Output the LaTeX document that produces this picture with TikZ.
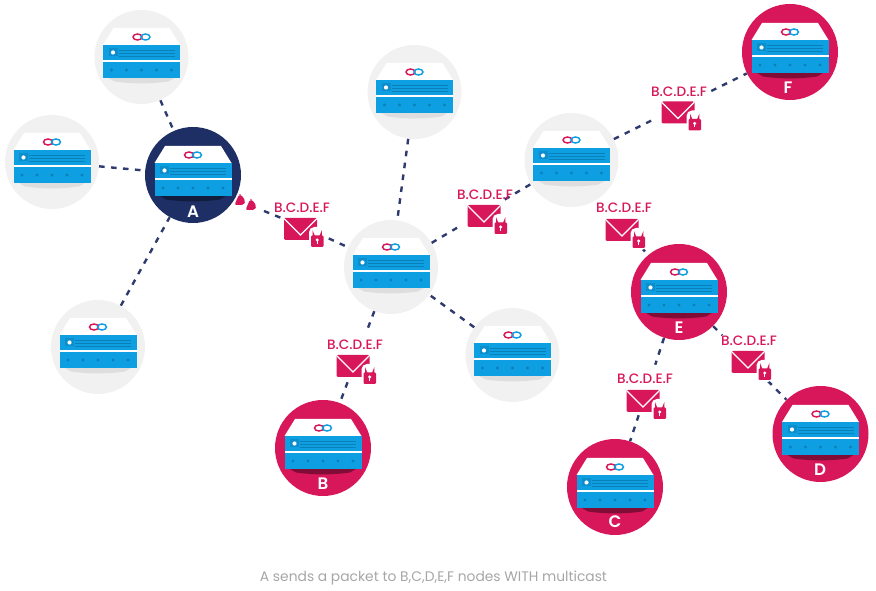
\documentclass[tikz,border=0pt]{standalone}
\usepackage{fontspec}
\setmainfont{Poppins}
\newfontfamily\tagfont{Poppins Medium}
\newfontfamily\letterfont{Poppins SemiBold}
\usetikzlibrary{positioning}

\definecolor{crimson}{HTML}{D8175A}
\definecolor{navy}{HTML}{1E2F66}
\definecolor{linknavy}{HTML}{2F3B6E}
\definecolor{softgray}{HTML}{F1F1F1}
\definecolor{bandblue}{HTML}{0E9FE2}
\definecolor{darkblue}{HTML}{0B7FB8}

\tikzset{
  plainnode/.style={circle, fill=softgray, minimum size=70.5pt, inner sep=0pt},
  hostnode/.style={circle, fill=crimson, minimum size=72pt, inner sep=0pt},
  srcnode/.style={circle, fill=navy, minimum size=72pt, inner sep=0pt},
  mailnode/.style={rectangle, minimum width=33.75pt, minimum height=37.5pt, inner sep=0pt},
  link/.style={draw=linknavy, line width=1.8pt, dash pattern=on 4.2pt off 4.8pt},
  tag/.style={text=crimson, font=\tagfont\fontsize{10.2}{11}\selectfont, inner sep=0pt},
  letter/.style={text=white, font=\letterfont\fontsize{12.5}{13}\selectfont, inner sep=0pt},
  pics/server/.style={code={
    \fill[black, opacity=#1] (-33,21) -- (33,21) -- (27,24.5) .. controls (10,27) and (-10,27) .. (-27,24.5) -- cycle;
    \fill[white] (-38.5,-12) -- (-28,-29) -- (28,-29) -- (38.5,-12) -- cycle;
    \fill[white] (-38.5,-12) rectangle (38.5,21);
    \fill[bandblue] (-38.5,-12) rectangle (38.5,3);
    \fill[bandblue] (-38.5,5) rectangle (38.5,21);
    \draw[crimson, line width=1.1pt] (-4,-20) ellipse (4.5 and 3);
    \draw[bandblue, line width=1.1pt] (4,-20) ellipse (4.5 and 3);
    \fill[darkblue, opacity=.5] (-33,-8.5) rectangle (-24,-.5);
    \fill[white] (-28.5,-4.5) circle (2.1);
    \draw[darkblue, line width=.6pt] (-23,-7) -- (33,-7);
    \draw[darkblue, line width=.6pt] (-23,-4) -- (33,-4);
    \draw[darkblue, line width=.6pt] (-23,-1) -- (33,-1);
    \foreach \px in {-30,-15,0,15,30}
      \fill[darkblue] (\px,13) circle (1.6);
  }},
  envelope/.pic={
    \fill[crimson, rounded corners=1pt] (-16.5,-11) rectangle (16.5,11);
    \draw[white, line width=.9pt] (-16,-10) -- (0,6) -- (16,-10);
    \fill[white, rounded corners=4pt] (8.5,-2) rectangle (25,20);
    \draw[crimson, line width=1pt] (12.7,7) -- (12.7,4.5) arc[start angle=180, end angle=0, radius=4] -- (20.7,7);
    \fill[crimson, rounded corners=.8pt] (10.5,6.5) rectangle (23,18);
    \fill[white] (16.7,11) circle (1.7);
    \fill[white] (16,11) rectangle (17.4,15);
  },
  packet/.pic={
    \fill[crimson, rounded corners=1.5pt] (-5.5,5) -- (-1,-5.5) -- (1,-5.5) -- (5.5,1) -- (4,5) -- cycle;
  }
}

\begin{document}
\begin{tikzpicture}[x=0.75pt, y=-0.75pt]
\useasboundingbox (0,0) rectangle (876,591);

\node[plainnode] (topleft) at (141.5,57) {};
\node[plainnode] (left) at (52,162) {};
\node[plainnode] (lowleft) at (98,347) {};
\node[plainnode] (topmid) at (414.5,92) {};
\node[plainnode] (hub) at (391,267) {};
\node[plainnode] (lowmid) at (512.5,355) {};
\node[plainnode] (upper) at (571.5,160) {};
\node[srcnode] (A) at (193,175) {};
\node[hostnode] (B) at (323,448) {};
\node[hostnode] (C) at (615,487) {};
\node[hostnode] (D) at (820.5,434) {};
\node[hostnode] (E) at (679,292) {};
\node[hostnode] (F) at (790,52) {};

\node[mailnode] (mailA) at (306,228) {};
\node[mailnode] (mailB) at (357,357) {};
\node[mailnode] (mailC) at (647,390) {};
\node[mailnode] (mailD) at (745,358) {};
\node[mailnode] (mailE) at (620,222) {};
\node[mailnode, minimum width=42pt] (mailF) at (683,105) {};
\node[mailnode] (mailH) at (482,213) {};

\coordinate (startA) at (264,211);

\draw[link] (topleft) -- (A);
\draw[link] (left) -- (A);
\draw[link] (lowleft) -- (A);
\draw[link] (topmid) -- (hub);
\draw[link] (lowmid) -- (hub);
\draw[link] (startA) -- (mailA);
\draw[link] (mailA) -- (hub);
\draw[link] (hub) -- (mailB);
\draw[link] (mailB) -- (B);
\draw[link] (hub) -- (mailH);
\draw[link] (mailH) -- (upper);
\draw[link] (upper) -- (mailF);
\draw[link] (mailF) -- (F);
\draw[link] (mailE) -- (E);
\draw[link] (E) -- (mailC);
\draw[link] (mailC) -- (C);
\draw[link] (E) -- (mailD);
\draw[link] (mailD) -- (D);

\foreach \n in {topleft,left,lowleft,topmid,hub,lowmid,upper}
  \pic at (\n) {server=.08};
\foreach \n in {A,B,C,D,E,F}
  \pic at (\n) {server=.4};

\foreach \px/\py in {300.5/229,353/366,643/401,748/362,622/230,678/112.5,484/216}
  \pic at (\px,\py) {envelope};

\node[tag] (tagA) at (302,208) {B.C.D.E.F};
\node[tag] (tagB) at (355,345) {B.C.D.E.F};
\node[tag] (tagC) at (645,379) {B.C.D.E.F};
\node[tag] (tagD) at (749,341) {B.C.D.E.F};
\node[tag] (tagE) at (624,208) {B.C.D.E.F};
\node[tag] (tagF) at (679,92) {B.C.D.E.F};
\node[tag] (tagH) at (485,195) {B.C.D.E.F};

\node[letter] (letterA) at (193,212) {A};
\node[letter] (letterB) at (323,484) {B};
\node[letter] (letterC) at (615,522) {C};
\node[letter] (letterD) at (820,470) {D};
\node[letter] (letterE) at (679,328) {E};
\node[letter] (letterF) at (788,88) {F};

\pic at (240,200) {packet};
\pic at (251,205) {packet};

\node[text=black!35, font=\fontsize{10.38}{12}\selectfont] (caption) at (433.5,578) {A sends a packet to B,C,D,E,F nodes WITH multicast};

\end{tikzpicture}
\end{document}
